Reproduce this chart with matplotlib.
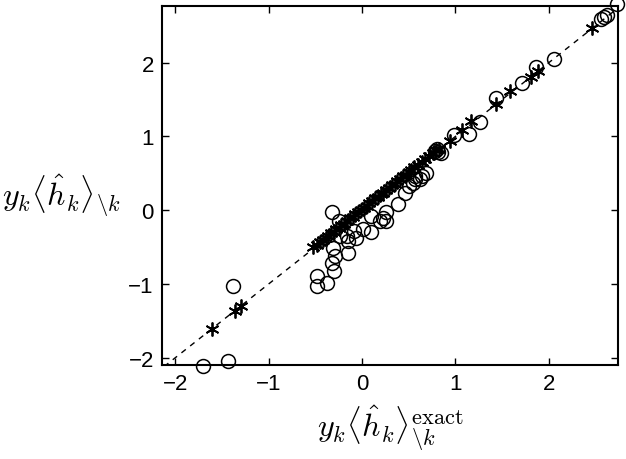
import numpy as np
import matplotlib.pyplot as plt

plt.rcParams['mathtext.fontset'] = 'cm'
plt.rcParams['font.family'] = ['Liberation Sans', 'DejaVu Sans']

# circles: approximation vs exact
circ_x = [-1.70, -1.43, -1.38,
          -0.48, -0.48, -0.37, -0.30, -0.32, -0.29, -0.31, -0.32, -0.25, -0.24,
          -0.15, -0.16, -0.15, -0.06, -0.09, 0.01, 0.10, 0.10, 0.19, 0.26, 0.26,
          0.22, 0.39, 0.46, 0.50, 0.55, 0.57, 0.64, 0.69, 0.62, 0.57,
          0.78, 0.81, 0.85, 0.80, 0.98, 1.15, 1.26, 1.43, 1.71, 1.86, 2.06,
          2.56, 2.59, 2.62, 2.73]
circ_y = [-2.11, -2.04, -1.03,
          -0.89, -1.03, -0.99, -0.83, -0.72, -0.62, -0.51, -0.03, -0.15, -0.35,
          -0.58, -0.35, -0.42, -0.37, -0.28, -0.26, -0.29, -0.08, -0.15, -0.14, -0.02,
          -0.10, 0.08, 0.24, 0.33, 0.37, 0.42, 0.47, 0.51, 0.42, 0.47,
          0.80, 0.79, 0.78, 0.83, 1.02, 1.04, 1.20, 1.52, 1.72, 1.94, 2.05,
          2.59, 2.62, 2.64, 2.79]

# stars: close to the diagonal
star_x = [-1.61, -1.36, -1.30, -0.52, -0.48, -0.45, -0.42, -0.39, -0.36, -0.33,
          -0.30, -0.28, -0.25, -0.22, -0.19, -0.16, -0.13, -0.10, -0.07, -0.04,
          -0.01, 0.02, 0.05, 0.08, 0.11, 0.14, 0.17, 0.20, 0.23, 0.26, 0.29,
          0.32, 0.35, 0.38, 0.41, 0.44, 0.47, 0.50, 0.53, 0.56, 0.60, 0.64,
          0.68, 0.72, 0.76, 0.79, 0.82, 0.94, 1.07, 1.17, 1.44, 1.58, 1.81,
          1.89, 2.46]
star_y = [-1.61, -1.37, -1.30, -0.50, -0.47, -0.43, -0.41, -0.37, -0.35, -0.31,
          -0.29, -0.26, -0.24, -0.20, -0.18, -0.15, -0.11, -0.09, -0.05, -0.03,
          0.01, 0.03, 0.06, 0.10, 0.12, 0.16, 0.18, 0.22, 0.24, 0.28, 0.30,
          0.34, 0.36, 0.40, 0.42, 0.46, 0.48, 0.52, 0.54, 0.58, 0.61, 0.66,
          0.69, 0.74, 0.77, 0.81, 0.83, 0.94, 1.09, 1.21, 1.44, 1.61, 1.80,
          1.89, 2.47]

xlim = (-2.14, 2.74)
ylim = (-2.10, 2.77)

fig = plt.figure(figsize=(6.26, 4.60), dpi=100)
ax = fig.add_axes([0.259, 0.204, 0.728, 0.781])

ax.plot([-2.12, 2.78], [-2.12, 2.78], '--', color='black', lw=1.0,
        dashes=(4, 4), clip_on=True)
ax.plot(star_x, star_y, linestyle='none', marker=(6, 2, 0), markersize=10,
        color='black', mew=1.3, clip_on=False)
ax.plot(circ_x, circ_y, linestyle='none', marker='o', markersize=10,
        mfc='none', mec='black', mew=1.1, clip_on=False)

ax.set_xlim(*xlim)
ax.set_ylim(*ylim)
ax.set_xticks([-2, -1, 0, 1, 2])
ax.set_yticks([-2, -1, 0, 1, 2])
ax.set_xticklabels(['\u22122', '\u22121', '0', '1', '2'])
ax.set_yticklabels(['\u22122', '\u22121', '0', '1', '2'])
ax.tick_params(direction='in', length=5, width=1.0, top=True, right=True,
               labelsize=16, pad=6)
for s in ax.spines.values():
    s.set_linewidth(1.5)

ax.set_xlabel(r'$y_k\langle\hat{h}_k\rangle^{\rm exact}_{\backslash k}$',
              fontsize=23, labelpad=6)
ax.set_ylabel(r'$y_k\langle\hat{h}_k\rangle_{\backslash k}$', fontsize=23,
              rotation=0, ha='center', va='center')
ax.yaxis.set_label_coords(-0.222, 0.475)

fig.savefig('out.png', dpi=100)
